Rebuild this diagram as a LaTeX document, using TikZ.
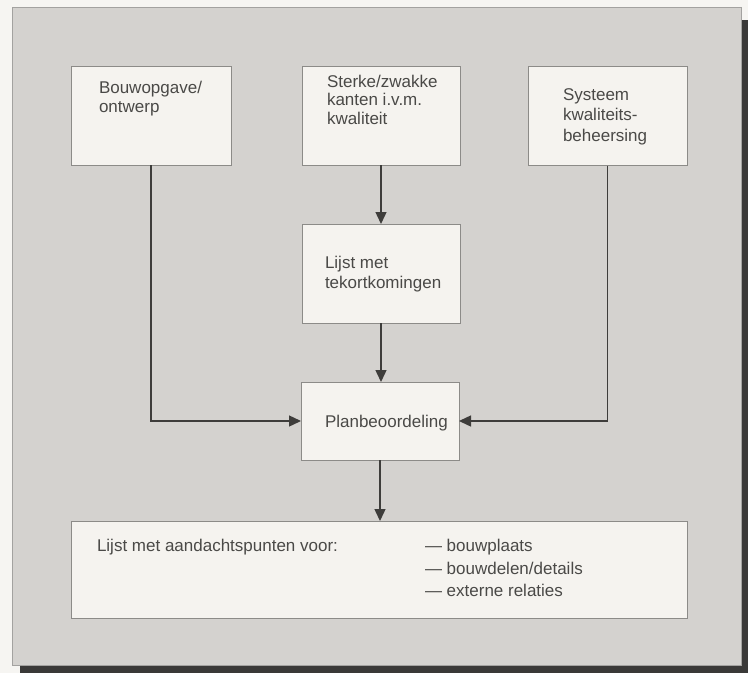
\documentclass[tikz,border=0pt]{standalone}
\usepackage{fontspec}
\setmainfont{Liberation Sans}
\usetikzlibrary{arrows.meta}
\definecolor{paper}{HTML}{F6F5F2}
\definecolor{panel}{HTML}{D4D2CF}
\definecolor{boxfill}{HTML}{F5F3EF}
\definecolor{boxline}{HTML}{8C8B88}
\definecolor{ink}{HTML}{4A4947}
\definecolor{arrowink}{HTML}{3E3D3B}
\definecolor{shadow}{HTML}{3A3938}
\tikzset{
  box/.style={draw=boxline, fill=boxfill, line width=1pt, inner sep=0pt, outer sep=0pt},
  txt/.style={anchor=base west, inner sep=0pt, outer sep=0pt, text=ink, font=\fontsize{17}{19}\selectfont},
  arr/.style={draw=arrowink, line width=1.4pt, -{Triangle[length=12pt,width=11pt]}}
}
\begin{document}
\begin{tikzpicture}[x=1pt,y=-1pt]
\useasboundingbox (0,0) rectangle (748,673);
\fill[paper] (0,0) rectangle (748,673);
\fill[shadow] (20,20) rectangle (748,673);
\filldraw[fill=panel, draw=boxline!80, line width=0.6pt] (12,7) rectangle (741,665);

\node[box, minimum width=160pt, minimum height=99pt] (b1) at (151,115.5) {};
\node[box, minimum width=158pt, minimum height=99pt] (b2) at (381,115.5) {};
\node[box, minimum width=159pt, minimum height=99pt] (b3) at (607.5,116) {};
\node[box, minimum width=158pt, minimum height=99pt] (lijst) at (381,273.5) {};
\node[box, minimum width=158pt, minimum height=78pt] (plan) at (380,421) {};
\node[box, minimum width=616pt, minimum height=97pt] (bottom) at (379,569.5) {};

\node[txt] (t1a) at (99,93.5) {Bouwopgave/};
\node[txt] (t1b) at (99,112) {ontwerp};
\node[txt] (t2a) at (327,87) {Sterke/zwakke};
\node[txt] (t2b) at (327,105.5) {kanten i.v.m.};
\node[txt] (t2c) at (327,124) {kwaliteit};
\node[txt] (t3a) at (563,100) {Systeem};
\node[txt] (t3b) at (563,120.5) {kwaliteits-};
\node[txt] (t3c) at (563,141) {beheersing};
\node[txt] (t4a) at (325,268) {Lijst met};
\node[txt] (t4b) at (325,288) {tekortkomingen};
\node[txt] (t5) at (325,427) {Planbeoordeling};
\node[txt] (t6) at (97,551) {Lijst met aandachtspunten voor:};
\node[txt] (t6a) at (425,551) {— bouwplaats};
\node[txt] (t6b) at (425,574) {— bouwdelen/details};
\node[txt] (t6c) at (425,596.5) {— externe relaties};

\draw[arr] (b1.south) |- (plan.west);
\draw[arr] (b3.south) |- (plan.east);
\draw[arr] (b2.south) -- (b2.south |- lijst.north);
\draw[arr] (lijst.south) -- (lijst.south |- plan.north);
\draw[arr] (plan.south) -- (plan.south |- bottom.north);
\end{tikzpicture}
\end{document}
